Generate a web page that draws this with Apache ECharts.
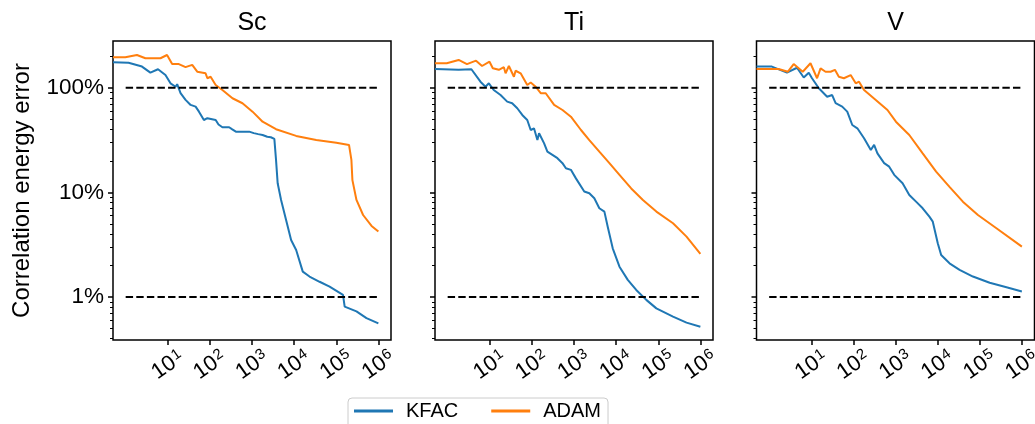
<!DOCTYPE html>
<html>
<head>
<meta charset="utf-8">
<script src="https://cdn.jsdelivr.net/npm/echarts@6/dist/echarts.min.js"></script>
<style>
  html, body { margin: 0; padding: 0; background: #fff; }
  #chart { width: 1035px; height: 424px; }
</style>
</head>
<body>
<div id="chart"></div>
<script>
const panelTitles = ['Sc', 'Ti', 'V']
const seriesNames = ['KFAC', 'ADAM']
const xTickValues = [10, 100, 1e3, 1e4, 1e5, 1e6]
const yTickValues = [1, 10, 100]
const yMinorValues = [0.4, 0.5, 0.6, 0.7, 0.8, 0.9, 2, 3, 4, 5, 6, 7, 8, 9, 20, 30, 40, 50, 60, 70, 80, 90, 200]
const targetLevels = [100, 1]

// Sc
const scKfacSteps = [0.5, 1.17, 2.44, 3.86, 5.86, 8.8, 11.6, 15.3, 16.7, 20.1, 26.4, 34.8, 45.8, 55, 72, 87, 137, 160, 175, 198, 286, 340, 370, 413, 857, 1100, 1400, 1782, 2300, 2800, 3390, 3715, 4064, 4898, 6442, 8472, 11170, 16030, 23170, 40180, 69500, 144500, 158500, 302000, 522000, 1e6]
const scKfacErr = [175, 173, 159, 139, 150, 132, 110, 102, 108, 88.5, 76.4, 68.4, 65.9, 59.0, 49.1, 51.1, 49.1, 44.5, 46.5, 41.9, 41.9, 40.0, 38.6, 38.0, 38.0, 36.8, 36.0, 35.3, 34.0, 33.6, 32.4, 20.4, 12.2, 8.45, 5.45, 3.51, 2.82, 1.75, 1.57, 1.40, 1.26, 1.05, 0.81, 0.73, 0.63, 0.56]
const scAdamSteps = [0.5, 0.98, 1.85, 2.94, 6.7, 9.6, 12.7, 18.3, 26.4, 38, 50, 79, 87, 104, 137, 198, 343, 593, 1028, 1782, 3715, 11170, 33500, 100500, 201000, 217000, 229000, 242000, 302000, 434000, 689000, 1e6]
const scAdamErr = [195, 195, 205, 191, 191, 205, 168, 168, 157, 165, 142, 137, 123, 127, 106, 95, 79.2, 71, 59, 47.3, 40.1, 34.6, 31.6, 29.8, 28.4, 27.5, 20.4, 13.1, 8.46, 6.08, 4.78, 4.22]

// Ti
const tiKfacSteps = [0.5, 1.82, 3.66, 6.0, 7.9, 9.5, 12.4, 18, 25.9, 34, 44.9, 59, 77.6, 93.5, 112, 135, 148, 195, 233, 307, 404, 532, 641, 843, 1109, 1750, 2307, 3034, 3990, 5260, 6310, 8300, 12000, 18900, 30000, 52000, 90200, 224000, 469000, 1e6]
const tiKfacErr = [151, 148, 150, 114, 102, 110, 95, 85, 73.5, 71, 63.6, 54.9, 49.1, 39.4, 40.9, 31.6, 36.7, 29.4, 24.5, 22.8, 21.2, 19, 17, 16.4, 13.6, 10.2, 9.8, 8.79, 7.05, 6.55, 4.70, 2.92, 1.95, 1.46, 1.17, 0.94, 0.78, 0.65, 0.57, 0.52]
const tiAdamSteps = [0.5, 0.95, 1.82, 2.87, 4.71, 6.55, 9.84, 11.8, 16.4, 21.6, 23.7, 28.4, 37.4, 41, 54, 77.6, 93.5, 123, 162, 213, 337, 532, 843, 1462, 2307, 3990, 6920, 12000, 22800, 43200, 90200, 224000, 469000, 1e6]
const tiAdamErr = [171, 171, 184, 168, 181, 161, 177, 153, 148, 157, 137, 161, 127, 145, 137, 106, 112, 102, 88.5, 88.5, 68.4, 61.2, 52.8, 39.4, 31.6, 24.5, 19.0, 14.7, 10.9, 8.46, 6.55, 5.07, 3.78, 2.58]

// V
const vKfacSteps = [0.5, 1.16, 2.64, 4.58, 6.62, 8.71, 10.4, 15.1, 23.8, 31.3, 37.8, 54.3, 71.4, 94, 124, 179, 259, 310, 372, 537, 708, 931, 1472, 2123, 3069, 4416, 6368, 7674, 10070, 12130, 19140, 33190, 68870, 172200, 431500, 1e6]
const vKfacErr = [159, 159, 139, 155, 125, 139, 123, 98.6, 82, 85, 71, 65.9, 59, 44, 40.9, 32.9, 25.4, 28.4, 23.6, 19, 17.6, 14.7, 12.2, 9.44, 8.15, 7.05, 5.86, 5.25, 3.27, 2.52, 2.10, 1.82, 1.57, 1.37, 1.24, 1.13]
const vAdamSteps = [0.5, 1.67, 2.79, 3.82, 6.27, 9.57, 13.7, 16.6, 21.8, 28.7, 36.4, 45.1, 59.4, 86.1, 113.5, 136, 179, 340, 644, 1023, 2123, 4416, 9204, 19140, 39720, 90570, 248900, 1e6]
const vAdamErr = [151, 151, 142, 168, 142, 171, 123, 153, 142, 142, 148, 127, 123, 132, 110, 114, 95, 76.4, 61.2, 47.3, 35.3, 23.6, 15.8, 11.3, 8.15, 6.08, 4.54, 3.03]

const panels = [
  [[scKfacSteps, scKfacErr], [scAdamSteps, scAdamErr]],
  [[tiKfacSteps, tiKfacErr], [tiAdamSteps, tiAdamErr]],
  [[vKfacSteps, vKfacErr], [vAdamSteps, vAdamErr]]
]

const colors = ['#1f77b4', '#ff7f0e']
const font = 'Liberation Sans, Arial, sans-serif'
const gridLeft = [113, 435, 756.5]
const gridWidth = 278
const gridTop = 41
const gridHeight = 299

const zip = (xs, ys) => xs.map((x, i) => [x, ys[i]])

const grids = gridLeft.map(left => ({
  left: left,
  top: gridTop,
  width: gridWidth,
  height: gridHeight,
  show: true,
  borderColor: '#000',
  borderWidth: 1.5,
  backgroundColor: 'transparent',
  outerBoundsMode: 'none'
}))

const xAxes = gridLeft.map((_, i) => ({
  type: 'log',
  gridIndex: i,
  min: 0.5,
  max: 1995262,
  axisLine: { show: false },
  splitLine: { show: false },
  axisTick: {
    customValues: xTickValues,
    length: 5,
    lineStyle: { color: '#000', width: 1.5 }
  },
  axisLabel: {
    customValues: xTickValues,
    showMinLabel: true,
    showMaxLabel: true,
    hideOverlap: false,
    rotate: 35,
    align: 'center',
    verticalAlign: 'middle',
    margin: 25,
    formatter: v => '{b|10}{s|' + Math.round(Math.log10(v)) + '}',
    rich: {
      b: { fontSize: 22, fontFamily: font, color: '#000', lineHeight: 22, padding: [7, 0, 0, 0], verticalAlign: 'bottom' },
      s: { fontSize: 15, fontFamily: font, color: '#000', lineHeight: 15, verticalAlign: 'top', padding: [0, 0, 0, 1] }
    }
  }
}))

const yAxes = []
gridLeft.forEach((_, i) => {
  yAxes.push({
    type: 'log',
    gridIndex: i,
    position: 'left',
    min: 0.389,
    max: 279,
    name: i === 0 ? 'Correlation energy error' : '',
    nameLocation: 'middle',
    nameGap: 79,
    nameTextStyle: { fontSize: 24, fontFamily: font, color: '#000' },
    axisLine: { show: false },
    splitLine: { show: false },
    axisTick: {
      customValues: yTickValues,
      length: 5,
      lineStyle: { color: '#000', width: 1.5 }
    },
    axisLabel: {
      show: i === 0,
      customValues: yTickValues,
      showMinLabel: true,
      showMaxLabel: true,
      formatter: v => v + '%',
      fontSize: 22.5,
      fontFamily: font,
      color: '#000',
      margin: 9
    }
  })
  yAxes.push({
    type: 'log',
    gridIndex: i,
    position: 'left',
    min: 0.389,
    max: 279,
    axisLine: { show: false },
    splitLine: { show: false },
    axisLabel: { show: false },
    axisTick: {
      customValues: yMinorValues,
      length: 3,
      lineStyle: { color: '#000', width: 1 }
    }
  })
})

const series = []
panels.forEach((curves, i) => {
  curves.forEach(([steps, err], k) => {
    series.push({
      name: seriesNames[k],
      type: 'line',
      xAxisIndex: i,
      yAxisIndex: i * 2,
      data: zip(steps, err),
      symbol: 'none',
      color: colors[k],
      lineStyle: { width: 2, color: colors[k] },
      animation: false
    })
  })
  targetLevels.forEach(level => {
    series.push({
      name: 'target',
      type: 'line',
      xAxisIndex: i,
      yAxisIndex: i * 2,
      data: [[1, level], [1e6, level]],
      symbol: 'none',
      lineStyle: { width: 2, color: '#000', type: [7.4, 3.2] },
      animation: false
    })
  })
})

const titles = panelTitles.map((t, i) => ({
  type: 'text',
  x: gridLeft[i] + gridWidth / 2,
  y: 11,
  style: {
    text: t,
    align: 'center',
    verticalAlign: 'top',
    fontSize: 25,
    fontFamily: font,
    fill: '#000'
  }
}))

const chart = echarts.init(document.getElementById('chart'))
chart.setOption({
  backgroundColor: '#fff',
  animation: false,
  grid: grids,
  xAxis: xAxes,
  yAxis: yAxes,
  graphic: titles,
  legend: {
    data: seriesNames,
    icon: 'rect',
    left: 348,
    top: 398,
    itemWidth: 39,
    itemHeight: 3,
    itemGap: 33,
    padding: [3, 7, 12, 6],
    borderColor: '#ccc',
    borderWidth: 1,
    borderRadius: 4,
    textStyle: { fontSize: 20, fontFamily: font, color: '#000', padding: [0, 0, 0, 8] }
  },
  series: series
})
</script>
</body>
</html>
